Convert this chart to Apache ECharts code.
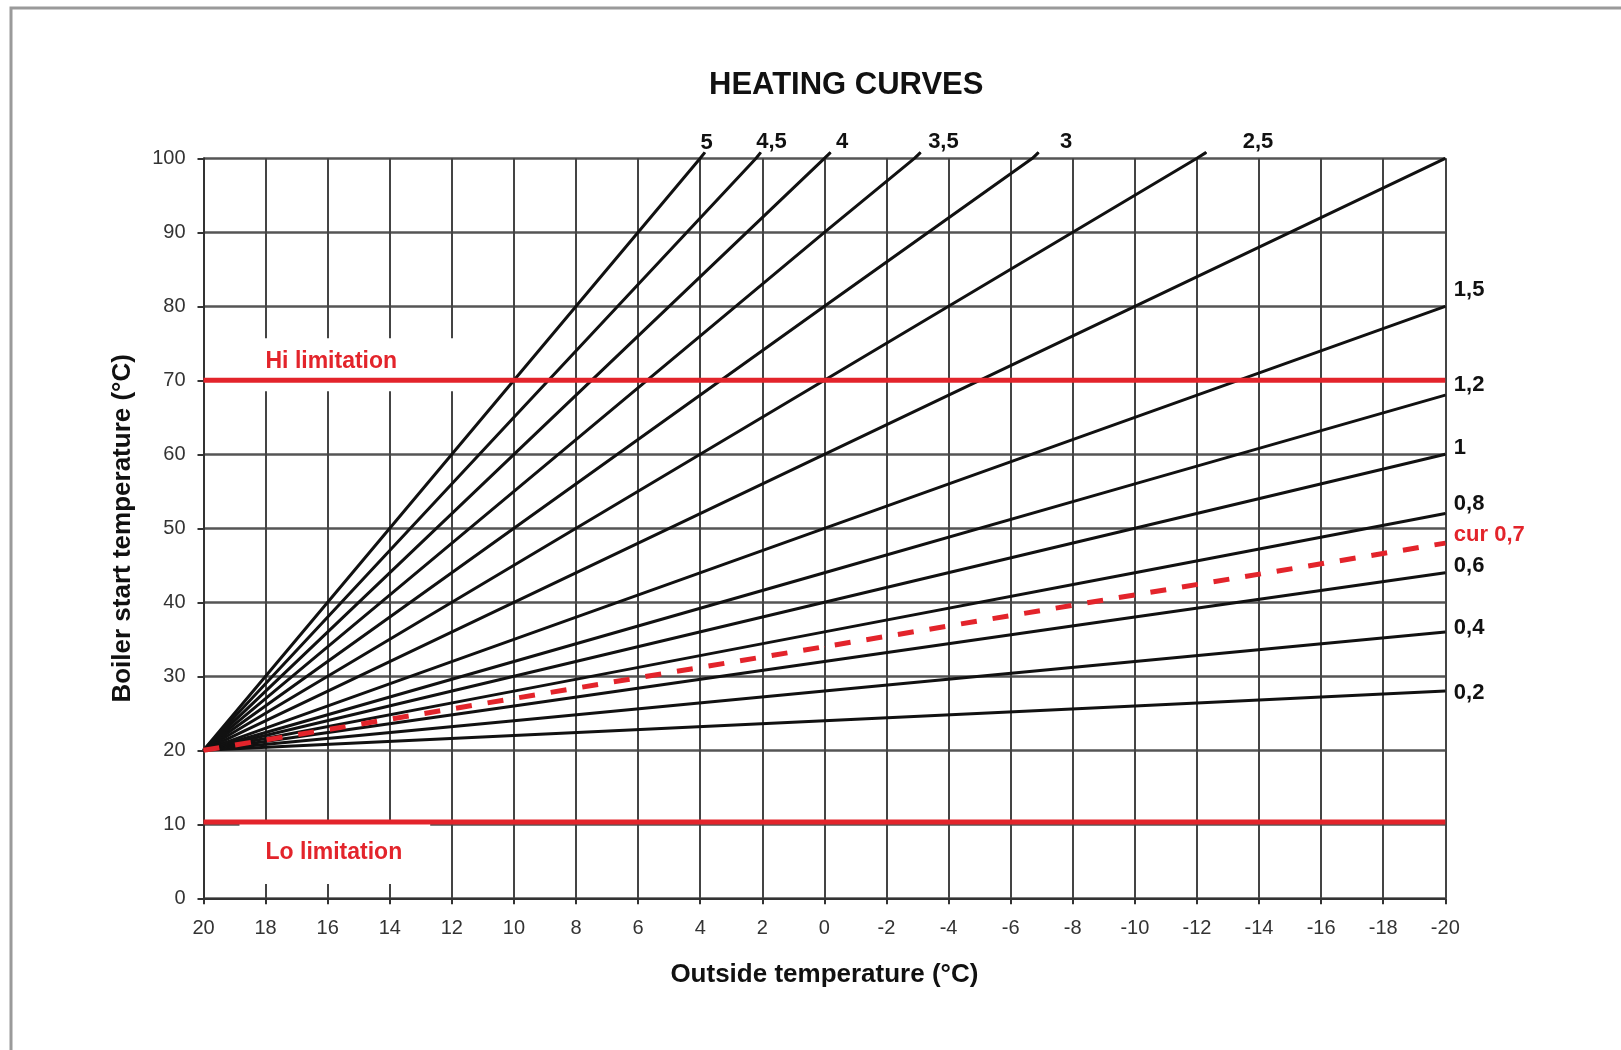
<!DOCTYPE html>
<html>
<head>
<meta charset="utf-8">
<title>Heating curves</title>
<script src="https://cdn.jsdelivr.net/npm/echarts@6/dist/echarts.min.js"></script>
<style>
html, body { margin: 0; padding: 0; background: #fff; }
#chart { width: 1621px; height: 1050px; }
</style>
</head>
<body>
<div id="chart"></div>
<script>
var myChart = echarts.init(document.getElementById("chart"));

// readings: [outside temp, boiler start temp]
var curve02 = [[20, 20], [10, 22], [0, 24], [-10, 26], [-20, 28]];
var curve04 = [[20, 20], [10, 24], [0, 28], [-10, 32], [-20, 36]];
var curve06 = [[20, 20], [10, 26], [0, 32], [-10, 38], [-20, 44]];
var curve08 = [[20, 20], [10, 28], [0, 36], [-10, 44], [-20, 52]];
var curve1 = [[20, 20], [10, 30], [0, 40], [-10, 50], [-20, 60]];
var curve12 = [[20, 20], [10, 32], [0, 44], [-10, 56], [-20, 68]];
var curve15 = [[20, 20], [10, 35], [0, 50], [-10, 65], [-20, 80]];
var curve2 = [[20, 20], [10, 40], [0, 60], [-10, 80], [-20, 100]];
var curve25 = [[20, 20], [10, 45], [0, 70], [-10, 95], [-12, 100], [-12.3, 100.8]];
var curve3 = [[20, 20], [10, 50], [0, 80], [-6.7, 100], [-6.9, 100.8]];
var curve35 = [[20, 20], [10, 55], [0, 90], [-2.9, 100], [-3.1, 100.8]];
var curve4 = [[20, 20], [10, 60], [0, 100], [-0.2, 100.8]];
var curve45 = [[20, 20], [10, 65], [2.2, 100], [2.05, 100.8]];
var curve5 = [[20, 20], [10, 70], [4, 100], [3.85, 100.8]];
var curveCur = [[20, 20], [10, 27], [0, 34], [-10, 41], [-20, 48]];

var curveNames = ["0,2", "0,4", "0,6", "0,8", "1", "1,2", "1,5", "2", "2,5", "3", "3,5", "4", "4,5", "5"];
var curveData = [curve02, curve04, curve06, curve08, curve1, curve12, curve15, curve2,
	curve25, curve3, curve35, curve4, curve45, curve5];
var curName = "cur 0,7";

var hiLimit = 70;
var loLimit = 10.3;

var tempRange = [-20, 20];
var tempStep = 2;
var boilerRange = [0, 100];
var boilerStep = 10;

// where each curve's name sits next to its end point (px)
var labelShift = [[8, 1.5], [8, -4], [8, -6.7], [8, -10], [8, -6.7], [8, -10.5], [8, -16.5], null,
	[36, -10], [21, -10], [7, -10], [5, -10], [-5, -10], [-5, -9]];
var curShift = [8, -8];

var font = "'Liberation Sans', Arial, sans-serif";
var red = "#e3242b";

function curveSeries(name, pts, shift, color, lineType, width, z) {
	var last = pts.length - 1;
	return {
		name: name,
		type: "line",
		data: pts.map(function (p, j) {
			var item = { value: p };
			if (j === last && shift) {
				item.label = { show: true, offset: shift };
			}
			return item;
		}),
		symbol: "circle",
		symbolSize: 1,
		showSymbol: true,
		clip: false,
		silent: true,
		z: z,
		itemStyle: { color: color },
		lineStyle: { color: color, width: width, type: lineType },
		label: {
			show: false,
			position: "right",
			distance: 0,
			formatter: name,
			fontSize: 22,
			fontWeight: "bold",
			fontFamily: font,
			color: color
		},
		emphasis: { disabled: true }
	};
}

// red limit line on top, its caption (white box over the grid) just under it
function limitSeries(name, value, pos, dist, pad) {
	return {
		name: name,
		type: "line",
		data: [[tempRange[1], value], [tempRange[0], value]],
		symbol: "none",
		silent: true,
		z: 6,
		lineStyle: { color: red, width: 5 },
		markLine: {
			silent: true,
			symbol: "none",
			z: 5,
			lineStyle: { color: "transparent", width: 1 },
			label: {
				show: true,
				position: pos,
				distance: dist,
				formatter: name,
				color: red,
				fontSize: 23,
				fontWeight: "bold",
				fontFamily: font,
				backgroundColor: "#fff",
				padding: pad
			},
			data: [[{ coord: [tempRange[1], value] }, { coord: [tempRange[0], value] }]]
		}
	};
}

var series = curveData.map(function (pts, i) {
	return curveSeries(curveNames[i], pts, labelShift[i], "#111", "solid", 3, 3);
});
series.push(curveSeries(curName, curveCur, curShift, red, [16, 16], 5, 4));
series.push(limitSeries("Hi limitation", hiLimit, "insideStartTop", [36, -11], [12, 75, 18, 26]));
series.push(limitSeries("Lo limitation", loLimit, "insideStartBottom", [36, 0], [19, 28, 20, 26]));

var option = {
	animation: false,
	backgroundColor: "#fff",
	title: {
		text: "HEATING CURVES",
		left: 709,
		top: 70,
		padding: 0,
		textStyle: { fontSize: 31, fontWeight: "bold", color: "#111", fontFamily: font }
	},
	graphic: [
		{
			type: "rect",
			silent: true,
			shape: { x: 11, y: 8, width: 1700, height: 1100 },
			style: { fill: null, stroke: "#9a9a9a", lineWidth: 3 }
		}
	],
	grid: {
		left: 203.5,
		right: 175.7,
		top: 158.3,
		bottom: 151.7,
		outerBoundsMode: "none"
	},
	xAxis: {
		type: "value",
		min: tempRange[0],
		max: tempRange[1],
		interval: tempStep,
		inverse: true,
		name: "Outside temperature (°C)",
		nameLocation: "middle",
		nameGap: 64,
		nameTextStyle: { fontSize: 26, fontWeight: "bold", color: "#111", fontFamily: font },
		axisLine: { show: true, onZero: false, lineStyle: { color: "#333", width: 2 } },
		axisTick: { show: true, inside: false, length: 6, lineStyle: { color: "#333", width: 2 } },
		axisLabel: { fontSize: 20, color: "#333", margin: 20, fontFamily: font },
		splitLine: { show: true, lineStyle: { color: "#444", width: 2 } }
	},
	yAxis: {
		type: "value",
		min: boilerRange[0],
		max: boilerRange[1],
		interval: boilerStep,
		name: "Boiler start temperature (°C)",
		nameLocation: "middle",
		nameGap: 68,
		nameTextStyle: { fontSize: 26, fontWeight: "bold", color: "#111", fontFamily: font },
		axisLine: { show: true, onZero: false, lineStyle: { color: "#333", width: 2 } },
		axisTick: { show: true, inside: false, length: 6, lineStyle: { color: "#333", width: 2 } },
		axisLabel: { fontSize: 20, color: "#333", margin: 18, fontFamily: font },
		splitLine: { show: true, lineStyle: { color: "#555", width: 2.5 } }
	},
	series: series
};

myChart.setOption(option);

window.addEventListener("resize", function () {
	myChart.resize();
});
</script>
</body>
</html>
